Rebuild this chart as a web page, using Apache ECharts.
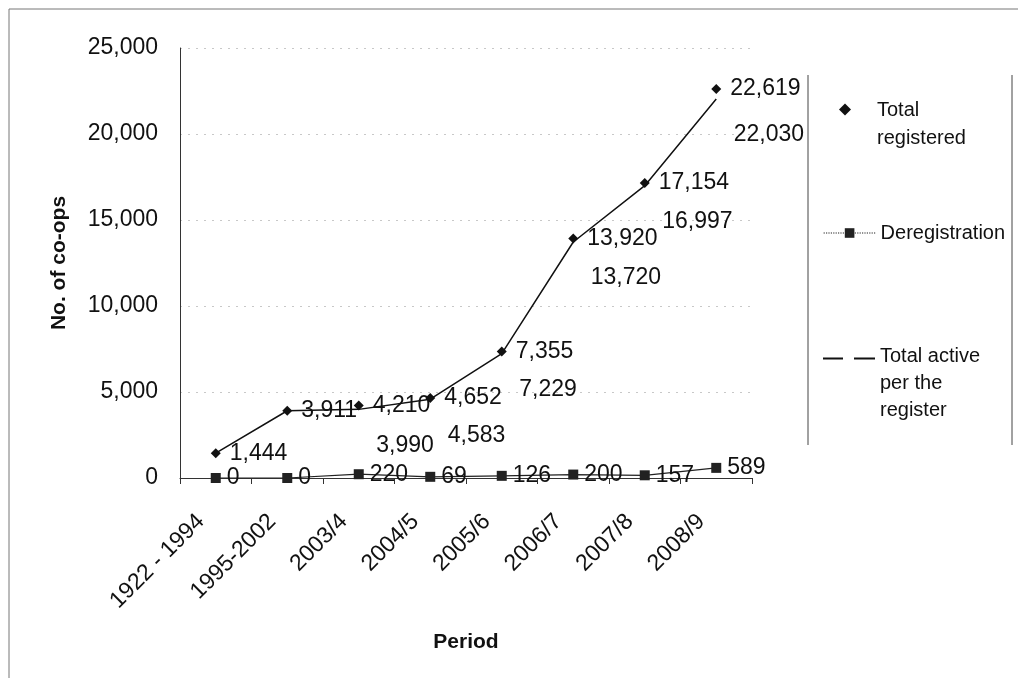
<!DOCTYPE html>
<html>
<head>
<meta charset="utf-8">
<script src="https://cdn.jsdelivr.net/npm/echarts@6/dist/echarts.min.js"></script>
<style>
html,body{margin:0;padding:0;background:#fff;}
#c{width:1018px;height:678px;}
</style>
</head>
<body>
<div id="c"></div>
<script>
const periods = ['1922 - 1994','1995-2002','2003/4','2004/5','2005/6','2006/7','2007/8','2008/9'];
const totalRegistered = [1444, 3911, 4210, 4652, 7355, 13920, 17154, 22619];
const deregistration = [0, 0, 220, 69, 126, 200, 157, 589];
const totalActive = [1444, 3911, 3990, 4583, 7229, 13720, 16997, 22030];
const yTicks = [0, 5000, 10000, 15000, 20000, 25000];

const FONT = 'Liberation Sans, Arial, sans-serif';
const TXT = '#111';
const fmt = v => Number(v).toLocaleString('en-US');

const chart = echarts.init(document.getElementById('c'), null, {renderer:'canvas'});
const legendText = {fontFamily: FONT, fontSize: 20, color: TXT, lineHeight: 28};

chart.setOption({
  backgroundColor: '#fff',
  animation: false,
  grid: {left: 180, right: 266, top: 48, bottom: 200, containLabel: false},
  graphic: [
    {type:'rect', shape:{x:9, y:9, width:1030, height:700}, style:{fill:'none', stroke:'#777', lineWidth:1}, silent:true},
    {type:'line', shape:{x1:808, y1:75, x2:808, y2:445}, style:{stroke:'#444', lineWidth:1}, silent:true},
    {type:'line', shape:{x1:1012, y1:75, x2:1012, y2:445}, style:{stroke:'#444', lineWidth:1}, silent:true}
  ],
  legend: [
    {orient:'vertical', left:834, top:91, itemWidth:12, itemHeight:41, symbolKeepAspect:true,
     textStyle: Object.assign({}, legendText, {padding:[0,0,0,21]}), formatter: () => 'Total\nregistered',
     data:[{name:'Total registered', icon:'path://M6,0 L12,6 L6,12 L0,6 Z M6,41'}]},
    {orient:'vertical', left:818, top:214, itemWidth:52, itemHeight:12,
     textStyle: legendText,
     data:[{name:'Deregistration', lineStyle:{type:'dotted', width:1.2, color:'#222'}}]},
    {orient:'vertical', left:818, top:338, itemWidth:52, itemHeight:52, symbolKeepAspect:true,
     textStyle: Object.assign({}, legendText, {lineHeight: 27}), formatter: () => 'Total active\nper the\nregister',
     data:[{name:'Total active per the register', icon:'path://M0,0 H20 V2 H0 Z M31,0 H52 V2 H31 Z M0,52',
            itemStyle:{color:'#111', opacity:1}}]}
  ],
  xAxis: {
    type: 'category',
    data: periods,
    boundaryGap: true,
    name: 'Period',
    nameLocation: 'middle',
    nameGap: 154,
    nameTextStyle: {fontFamily: FONT, fontSize: 21, fontWeight: 'bold', color: TXT},
    axisLine: {show: true, lineStyle: {color: '#333', width: 1}},
    axisTick: {show: true, length: 6, lineStyle: {color: '#333'}},
    axisLabel: {rotate: 45, fontFamily: FONT, fontSize: 23, color: TXT, margin: 25, padding: [0, 21, 0, 0], interval: 0},
    splitLine: {show: false}
  },
  yAxis: {
    type: 'value',
    min: yTicks[0],
    max: yTicks[yTicks.length-1],
    interval: yTicks[1]-yTicks[0],
    name: 'No. of co-ops',
    nameLocation: 'middle',
    nameGap: 110,
    nameRotate: 90,
    nameTextStyle: {fontFamily: FONT, fontSize: 21, fontWeight: 'bold', color: TXT},
    axisLine: {show: true, lineStyle: {color: '#333', width: 1}},
    axisTick: {show: false},
    axisLabel: {fontFamily: FONT, fontSize: 23, color: TXT, margin: 22, formatter: v => fmt(v)},
    splitLine: {show: true, lineStyle: {color: '#c8c8c8', type: [2, 6], width: 1}}
  },
  series: [
    {
      name: 'Total registered',
      type: 'scatter',
      data: totalRegistered,
      symbol: 'diamond',
      symbolSize: 10,
      itemStyle: {color: '#111', opacity: 1},
      label: {show: true, position: 'right', distance: 9, fontFamily: FONT, fontSize: 23, color: TXT,
              formatter: p => fmt(p.value)},
      z: 4
    },
    {
      name: 'Deregistration',
      type: 'line',
      data: deregistration,
      symbol: 'rect',
      symbolSize: 10,
      showAllSymbol: true,
      lineStyle: {color: '#222', width: 1.2},
      itemStyle: {color: '#222'},
      label: {show: true, position: 'right', distance: 6, fontFamily: FONT, fontSize: 23, color: TXT,
              formatter: p => fmt(p.value)},
      z: 3
    },
    {
      name: 'Total active per the register',
      type: 'line',
      data: totalActive,
      symbol: 'circle',
      symbolSize: 1,
      showSymbol: true,
      showAllSymbol: true,
      lineStyle: {color: '#111', width: 1.5},
      itemStyle: {color: 'rgba(0,0,0,0)'},
      label: {show: true, position: 'right', offset: [12, 36], fontFamily: FONT, fontSize: 23, color: TXT,
              formatter: p => (p.value === totalRegistered[p.dataIndex] ? '' : fmt(p.value))},
      z: 2
    }
  ]
});
</script>
</body>
</html>
